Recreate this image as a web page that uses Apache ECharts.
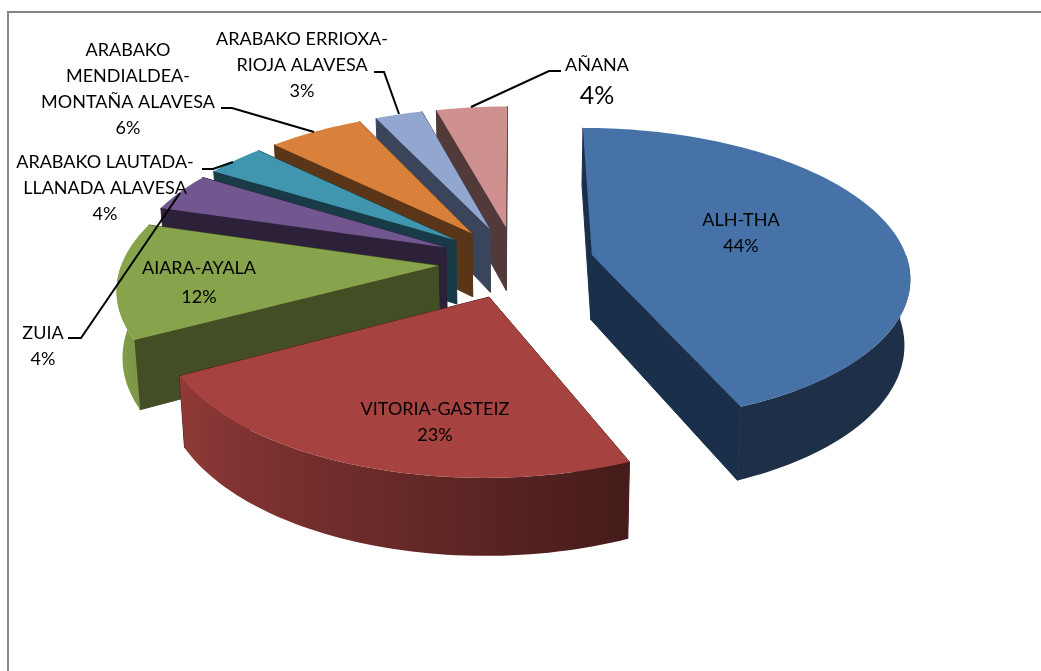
<!DOCTYPE html>
<html style="height: 100%">

<head>
    <meta charset="utf-8">
</head>

<body style="height: 100%; margin: 0; background: #fff">
    <div id="container" style="width: 1041px; height: 671px"></div>
    <script src="https://cdn.jsdelivr.net/npm/echarts@6/dist/echarts.min.js"></script>
    <script>
        const sliceNames = ['ALH-THA', 'VITORIA-GASTEIZ', 'AIARA-AYALA', 'ZUIA', 'ARABAKO LAUTADA-LLANADA ALAVESA',
            'ARABAKO MENDIALDEA-MONTAÑA ALAVESA', 'ARABAKO ERRIOXA-RIOJA ALAVESA', 'AÑANA'];
        // printed labels are rounded, the slice angles show the decimals
        const sliceValues = [43.7, 23.45, 12.49, 4.19, 3.5, 5.67, 2.8, 4.2];
        const topColors = ['#4672A8', '#A64340', '#87A34B', '#725690', '#4096AE', '#D9813A', '#91A7CF', '#CF9190'];
        const wallColors = ['#1A2F4A', '#4A1C1A', '#434E24', '#2C2138', '#193B47', '#5A3517', '#3A445A', '#533A3A'];
        // far slices first, they get covered by the nearer ones
        const drawOrder = [7, 6, 5, 4, 3, 2, 0, 1];

        // pie geometry of the fake 3D view
        const cx = 516, cy = 262;
        const radius = 316, explode = 78;
        const tilt = 0.462, depth = 2340, thickness = 65, bottomShrink = 0.985;

        const total = sliceValues.reduce((a, b) => a + b, 0);
        const starts = [];
        sliceValues.reduce((acc, v, i) => { starts[i] = acc; return acc + v / total * 2 * Math.PI; }, 0);

        function project(X, Y, bottom) {
            const s = depth / (depth + Y);
            return bottom
                ? [cx + X * s * bottomShrink, cy - tilt * Y * s + thickness * s]
                : [cx + X * s, cy - tilt * Y * s];
        }

        function shade(hex, f) {
            const c = echarts.color.parse(hex);
            return 'rgb(' + [0, 1, 2].map(i => Math.round(Math.min(255, c[i] * f))).join(',') + ')';
        }

        function poly(points, fill, stroke) {
            return {
                type: 'polygon',
                shape: { points: points },
                // a thin stroke under the top face hides the antialias seams
                style: stroke ? { fill: fill, stroke: stroke, lineWidth: 1 } : { fill: fill }
            };
        }

        function wallShade(a, i) {
            const s = Math.sin(a);
            const f = Math.max(0.42, 0.54 - 0.33 * s + 0.08 * Math.pow(Math.max(0, -s), 6));
            return i === 2 ? f * 1.07 : f; // the green wall is lit more than the red one
        }

        function renderSlice(params, api) {
            const i = api.value(0);
            const a0 = starts[i];
            const a1 = a0 + api.value(1) / total * 2 * Math.PI;
            const mid = (a0 + a1) / 2;
            const ox = explode * Math.sin(mid), oy = explode * Math.cos(mid);
            const arc = (from, to) => {
                const steps = Math.max(6, Math.round((to - from) * 40));
                const out = [];
                for (let k = 0; k <= steps; k++) out.push(from + (to - from) * k / steps);
                return out;
            };
            const rim = (a, bottom) => project(ox + radius * Math.sin(a), oy + radius * Math.cos(a), bottom);
            const apexTop = project(ox, oy, false), apexBottom = project(ox, oy, true);

            const children = [
                poly([apexTop, rim(a0, false), rim(a0, true), apexBottom], wallColors[i], wallColors[i]),
                poly([apexTop, rim(a1, false), rim(a1, true), apexBottom], wallColors[i], wallColors[i])
            ];
            // outer wall only on the part of the rim that faces the viewer
            const w0 = Math.max(a0, Math.PI / 2), w1 = Math.min(a1, 1.5 * Math.PI);
            if (w1 > w0) {
                const wall = arc(w0, w1);
                const xs = wall.map(a => rim(a, false)[0]);
                const minX = Math.min(...xs), maxX = Math.max(...xs);
                const stops = wall
                    .map((a, k) => ({ offset: (xs[k] - minX) / (maxX - minX), color: shade(topColors[i], wallShade(a, i)) }))
                    .sort((p, q) => p.offset - q.offset);
                const fill = new echarts.graphic.LinearGradient(minX, 0, maxX, 0, stops, true);
                children.push(poly(wall.map(a => rim(a, false)).concat(wall.slice().reverse().map(a => rim(a, true))), fill));
            }
            children.push(poly([apexTop].concat(arc(a0, a1).map(a => rim(a, false))), topColors[i]));
            return { type: 'group', children: children };
        }

        const labelFont = 'Lato, "Open Sans", sans-serif';
        const labels = [
            { lines: ['ALH-THA'], value: 0, x: 741, y: 220, dy: 26 },
            { lines: ['VITORIA-GASTEIZ'], value: 1, x: 435, y: 409, dy: 26 },
            { lines: ['AIARA-AYALA'], value: 2, x: 199, y: 268, dy: 29 },
            { lines: ['ZUIA'], value: 3, x: 43, y: 333, dy: 26 },
            { lines: ['ARABAKO LAUTADA-', 'LLANADA ALAVESA'], value: 4, x: 105, y: 162, dy: 26 },
            { lines: ['ARABAKO', 'MENDIALDEA-', 'MONTAÑA ALAVESA'], value: 5, x: 128, y: 50, dy: 26 },
            { lines: ['ARABAKO ERRIOXA-', 'RIOJA ALAVESA'], value: 6, x: 302, y: 39, dy: 26 },
            { lines: ['AÑANA'], value: 7, x: 597, y: 65, dy: 31, big: true }
        ];
        const leaders = [
            [[561, 71], [549, 71], [471, 107]],
            [[374, 72], [384, 72], [399, 114]],
            [[221, 108], [232, 108], [314, 132]],
            [[202, 169], [213, 169], [233, 162]],
            [[68, 338], [81, 338], [180, 193]]
        ];

        const graphics = [{
            type: 'rect',
            shape: { x: 8, y: 12, width: 1100, height: 700 },
            style: { fill: 'none', stroke: '#868686', lineWidth: 2 },
            silent: true
        }];
        leaders.forEach(points => graphics.push({
            type: 'polyline',
            z: 10,
            shape: { points: points },
            style: { fill: 'none', stroke: '#000', lineWidth: 2 }
        }));
        labels.forEach(l => {
            const rows = l.lines.map((t, n) => ({ text: t, y: l.y + n * 26.3, size: 18 }));
            rows.push({
                text: Math.round(sliceValues[l.value]) + '%',
                y: l.y + (l.lines.length - 1) * 26.3 + l.dy,
                size: l.big ? 25 : 18
            });
            rows.forEach(r => graphics.push({
                type: 'text',
                z: 11,
                x: l.x,
                y: r.y,
                style: {
                    text: r.text,
                    fill: '#000',
                    font: r.size + 'px ' + labelFont,
                    align: 'center',
                    verticalAlign: 'middle'
                }
            }));
        });

        const myChart = echarts.init(document.getElementById('container'));
        myChart.setOption({
            animation: false,
            backgroundColor: '#fff',
            graphic: graphics,
            series: [{
                type: 'custom',
                coordinateSystem: 'none',
                renderItem: renderSlice,
                silent: true,
                data: drawOrder.map(i => [i, sliceValues[i]])
            }]
        });
    </script>
</body>

</html>
